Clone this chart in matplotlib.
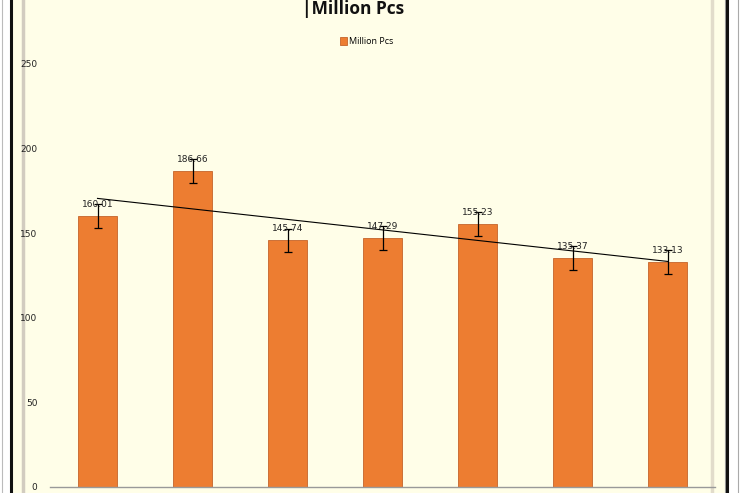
import numpy as np
import matplotlib
matplotlib.use("Agg")
import matplotlib.pyplot as plt
from matplotlib.patches import Rectangle
from matplotlib.lines import Line2D

# data
categories = ["1", "2", "3", "4", "5", "6", "7"]
values = [160.01, 186.66, 145.74, 147.29, 155.23, 135.37, 133.13]
errors = [7, 7, 7, 7, 7, 7, 7]
yticks = [0, 50, 100, 150, 200, 250]
series_name = "Million Pcs"
title = "|Million Pcs"

W, H = 740, 493
fig = plt.figure(figsize=(W / 100, H / 100), dpi=100, facecolor="white")

def px(x0, y0, w, h):
    # pixel box (top-left origin) -> figure fraction
    return (x0 / W, 1 - (y0 + h) / H, w / W, h / H)

# frame pieces
cream = "#FFFEE8"
fig.patches.append(Rectangle((11 / W, 0), 715 / W, 1, transform=fig.transFigure,
                             facecolor=cream, edgecolor="none", zorder=-2))
for x, c, lw in [(1.5, "#BBBBBB", 0.8), (10.5, "#111111", 2.2), (22.5, "#D2CCC0", 2.5),
                 (712, "#E2DCCB", 2.5), (724.5, "#999999", 0.8), (727, "#111111", 2.2),
                 (737.5, "#AAAAAA", 0.8)]:
    fig.add_artist(Line2D([x / W, x / W], [0, 1], color=c, lw=lw,
                          transform=fig.transFigure, zorder=-1))

ax = fig.add_axes(px(50, 47, 665, 440))
ax.set_facecolor("none")

x = np.arange(len(values))
ax.bar(x, values, width=0.41, color="#ED7D31", edgecolor="#C5642A", linewidth=0.6,
       label=series_name, zorder=2)
ax.errorbar(x, values, yerr=errors, fmt="none", ecolor="black", elinewidth=0.9,
            capsize=3, capthick=0.9, zorder=3)

# linear trend line
k, b = np.polyfit(x, values, 1)
ax.plot(x, k * x + b, color="black", lw=0.8, zorder=4)

for xi, v in zip(x, values):
    ax.annotate(f"{v:.2f}", (xi, v), xytext=(0, 5), textcoords="offset points",
                ha="center", va="bottom", fontsize=6.5, color="#222222", zorder=5)

ax.set_xlim(-0.5, len(values) - 0.5)
ax.set_ylim(0, 260)
ax.set_yticks(yticks)
ax.set_yticklabels([str(t) for t in yticks], fontsize=6.5, color="#222222")
ax.tick_params(axis="y", length=0, pad=9)
ax.set_xticks([])
for s in ["top", "right", "left"]:
    ax.spines[s].set_visible(False)
ax.spines["bottom"].set_color("#999999")
ax.spines["bottom"].set_linewidth(1)

fig.text(353 / W, 1 - 13.5 / H, title, ha="center", va="baseline", fontsize=12.5,
         fontweight="bold", family=["Open Sans", "DejaVu Sans"], color="#111111")

leg = ax.legend(loc="upper center", bbox_to_anchor=(367 / W, 1 - 29 / H),
                bbox_transform=fig.transFigure, frameon=False,
                handlelength=0.7, handleheight=0.9, handletextpad=0.3,
                prop={"family": ["Open Sans", "DejaVu Sans"], "size": 6.5})

fig.savefig("out.png", dpi=100)
